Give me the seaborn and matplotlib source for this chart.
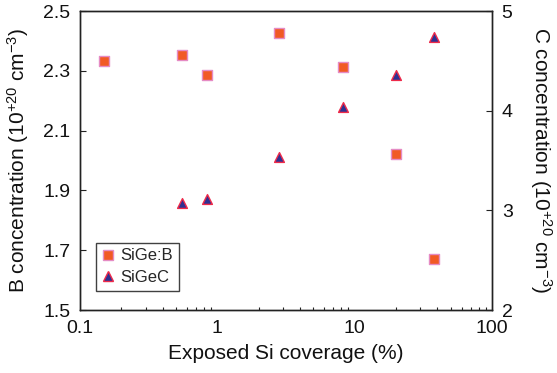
import matplotlib
matplotlib.use("Agg")
import matplotlib.pyplot as plt
import seaborn as sns
import pandas as pd
from matplotlib.lines import Line2D

coverage_b = [0.15, 0.55, 0.84, 2.8, 8.2, 20, 38]
b_conc = [2.332, 2.354, 2.286, 2.425, 2.314, 2.022, 1.671]
coverage_c = [0.55, 0.84, 2.8, 8.2, 20, 38]
c_conc = [3.07, 3.11, 3.54, 4.04, 4.36, 4.74]

sns.set_theme(style="white")
plt.rcParams['font.family'] = ['Liberation Sans', 'DejaVu Sans']
plt.rcParams['mathtext.fontset'] = 'custom'
plt.rcParams['mathtext.rm'] = 'Liberation Sans'
plt.rcParams['mathtext.it'] = 'Liberation Sans'

fig = plt.figure(figsize=(5.57, 3.73), dpi=100)
ax = fig.add_axes([0.1436, 0.1689, 0.7397, 0.8016])
ax2 = ax.twinx()

df_b = pd.DataFrame({"x": coverage_b, "y": b_conc})
df_c = pd.DataFrame({"x": coverage_c, "y": c_conc})

sq_face, sq_edge = "#F15A24", "#E58BC4"
tri_face, tri_edge = "#2E3192", "#EE2A4A"

sns.scatterplot(data=df_b, x="x", y="y", ax=ax, marker="s", s=45,
                color=sq_face, edgecolor=sq_edge, linewidth=1.0, zorder=3)
sns.scatterplot(data=df_c, x="x", y="y", ax=ax2, marker="^", s=50,
                color=tri_face, edgecolor=tri_edge, linewidth=1.0, zorder=3)

ax.set_xscale("log")
ax.set_xlim(0.1, 100)
ax.set_ylim(1.5, 2.5)
ax2.set_ylim(2, 5)
ax.set_yticks([1.5, 1.7, 1.9, 2.1, 2.3, 2.5])
ax.set_yticklabels(["1.5", "1.7", "1.9", "2.1", "2.3", "2.5"])
ax2.set_yticks([2, 3, 4, 5])
ax2.set_yticklabels(["2", "3", "4", "5"])
ax.set_xticks([0.1, 1, 10, 100])
ax.set_xticklabels(["0.1", "1", "10", "100"])

for a in (ax, ax2):
    for sp in a.spines.values():
        sp.set_color("#222222")
        sp.set_linewidth(1.0)
        sp.set_visible(True)
ax.tick_params(axis="both", which="major", direction="in", length=4, width=0.8,
               labelsize=14, color="#222222", labelcolor="#111111", pad=7)
ax.tick_params(axis="x", which="minor", direction="in", length=2.5, width=0.8,
               color="#222222", bottom=True)
ax2.tick_params(axis="y", which="major", direction="in", length=4, width=0.8,
                labelsize=14, color="#222222", labelcolor="#111111", pad=7, right=True)

ax.set_xlabel("Exposed Si coverage (%)", fontsize=15, color="#111111", labelpad=5)
ax.set_ylabel(r"B concentration (10$^{+20}$ cm$^{-3}$)", fontsize=15, color="#111111", labelpad=9)
ax2.set_ylabel(r"C concentration (10$^{+20}$ cm$^{-3}$)", fontsize=15, color="#111111",
               rotation=270, labelpad=30)

handles = [
    Line2D([], [], linestyle="none", marker="s", markersize=6.5, markerfacecolor=sq_face,
           markeredgecolor=sq_edge, markeredgewidth=1.0),
    Line2D([], [], linestyle="none", marker="^", markersize=7, markerfacecolor=tri_face,
           markeredgecolor=tri_edge, markeredgewidth=1.0),
]
leg = ax.legend(handles, ["SiGe:B", "SiGeC"], loc="lower left", bbox_to_anchor=(0.039, 0.064),
                fontsize=12, frameon=True, fancybox=False, edgecolor="#111111",
                handlelength=0.7, handletextpad=0.4, borderpad=0.35, labelspacing=0.4,
                borderaxespad=0)
leg.get_frame().set_linewidth(1.0)

fig.savefig("out.png", dpi=100)
